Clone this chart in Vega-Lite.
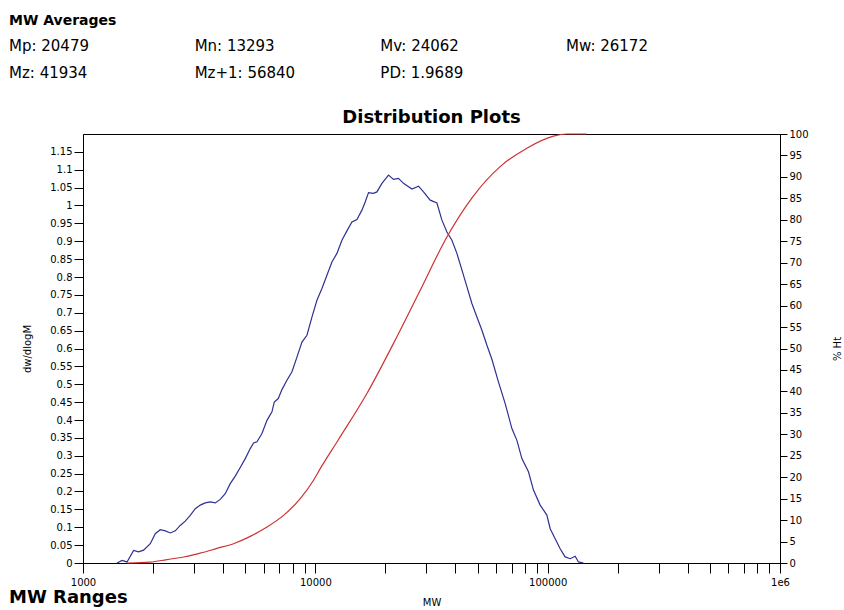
{
  "$schema": "https://vega.github.io/schema/vega-lite/v6.json",
  "background": "white",
  "padding": {"left": 9, "top": 14, "right": 2, "bottom": 0},
  "title": {"text": "MW Averages", "anchor": "start", "frame": "bounds", "fontSize": 14, "fontWeight": "bold", "offset": 11, "color": "black", "font": "DejaVu Sans"},
  "config": {
    "font": "DejaVu Sans",
    "view": {"stroke": null},
    "axis": {"labelFont": "DejaVu Sans", "titleFont": "DejaVu Sans", "labelColor": "black", "titleColor": "black", "domainColor": "black", "tickColor": "black", "grid": false, "labelFontSize": 10, "titleFontSize": 10, "titleFontWeight": "normal", "labelPadding": 2},
    "title": {"color": "black", "font": "DejaVu Sans"},
    "text": {"font": "DejaVu Sans", "color": "black"}
  },
  "datasets": {
    "averages": [
      {"label": "Mp: 20479", "col": 0, "row": 1},
      {"label": "Mn: 13293", "col": 1, "row": 1},
      {"label": "Mv: 24062", "col": 2, "row": 1},
      {"label": "Mw: 26172", "col": 3, "row": 1},
      {"label": "Mz: 41934", "col": 0, "row": 2},
      {"label": "Mz+1: 56840", "col": 1, "row": 2},
      {"label": "PD: 1.9689", "col": 2, "row": 2}
    ],
    "ranges": [{"label": "MW Ranges", "col": 0}],
    "dw": [
      {"M": 1401, "dw": 0}, {"M": 1472, "dw": 0.007}, {"M": 1547, "dw": 0.003}, {"M": 1651, "dw": 0.035},
      {"M": 1735, "dw": 0.031}, {"M": 1823, "dw": 0.036}, {"M": 1948, "dw": 0.054}, {"M": 2047, "dw": 0.082},
      {"M": 2151, "dw": 0.093}, {"M": 2261, "dw": 0.090}, {"M": 2375, "dw": 0.084}, {"M": 2495, "dw": 0.090},
      {"M": 2622, "dw": 0.105}, {"M": 2755, "dw": 0.117}, {"M": 2895, "dw": 0.133}, {"M": 3042, "dw": 0.152},
      {"M": 3197, "dw": 0.162}, {"M": 3359, "dw": 0.168}, {"M": 3530, "dw": 0.171}, {"M": 3709, "dw": 0.168},
      {"M": 3897, "dw": 0.178}, {"M": 4095, "dw": 0.194}, {"M": 4303, "dw": 0.222}, {"M": 4522, "dw": 0.243},
      {"M": 4752, "dw": 0.267}, {"M": 4993, "dw": 0.292}, {"M": 5247, "dw": 0.320}, {"M": 5423, "dw": 0.336},
      {"M": 5608, "dw": 0.339}, {"M": 5892, "dw": 0.362}, {"M": 6192, "dw": 0.399}, {"M": 6506, "dw": 0.423},
      {"M": 6656, "dw": 0.450}, {"M": 6925, "dw": 0.460}, {"M": 7183, "dw": 0.485}, {"M": 7547, "dw": 0.511},
      {"M": 7934, "dw": 0.535}, {"M": 8334, "dw": 0.576}, {"M": 8758, "dw": 0.618}, {"M": 9203, "dw": 0.637},
      {"M": 9669, "dw": 0.688}, {"M": 10160, "dw": 0.735}, {"M": 10676, "dw": 0.768}, {"M": 11218, "dw": 0.805},
      {"M": 11788, "dw": 0.842}, {"M": 12386, "dw": 0.866}, {"M": 13016, "dw": 0.903}, {"M": 13677, "dw": 0.929},
      {"M": 14371, "dw": 0.954}, {"M": 15101, "dw": 0.961}, {"M": 15867, "dw": 0.987}, {"M": 16395, "dw": 1.010},
      {"M": 16940, "dw": 1.036}, {"M": 17800, "dw": 1.034}, {"M": 18412, "dw": 1.038}, {"M": 19346, "dw": 1.062},
      {"M": 20654, "dw": 1.085}, {"M": 21705, "dw": 1.073}, {"M": 22803, "dw": 1.076}, {"M": 23960, "dw": 1.062},
      {"M": 26044, "dw": 1.046}, {"M": 27807, "dw": 1.054}, {"M": 29218, "dw": 1.038}, {"M": 31221, "dw": 1.015},
      {"M": 33372, "dw": 1.007}, {"M": 35058, "dw": 0.959}, {"M": 36844, "dw": 0.926}, {"M": 38712, "dw": 0.903},
      {"M": 40677, "dw": 0.866}, {"M": 42737, "dw": 0.820}, {"M": 44910, "dw": 0.773}, {"M": 47194, "dw": 0.726},
      {"M": 49602, "dw": 0.688}, {"M": 52120, "dw": 0.651}, {"M": 54760, "dw": 0.609}, {"M": 57537, "dw": 0.570},
      {"M": 61434, "dw": 0.506}, {"M": 65649, "dw": 0.446}, {"M": 70146, "dw": 0.376}, {"M": 73710, "dw": 0.343},
      {"M": 77450, "dw": 0.292}, {"M": 82680, "dw": 0.255}, {"M": 86880, "dw": 0.204}, {"M": 92837, "dw": 0.162},
      {"M": 99217, "dw": 0.134}, {"M": 102517, "dw": 0.096}, {"M": 107718, "dw": 0.068}, {"M": 113180, "dw": 0.040},
      {"M": 118925, "dw": 0.017}, {"M": 124962, "dw": 0.012}, {"M": 131340, "dw": 0.019}, {"M": 135681, "dw": 0.003},
      {"M": 142560, "dw": 0}
    ],
    "cum": [
      {"M": 1547, "pct": 0}, {"M": 1948, "pct": 0.2}, {"M": 2298, "pct": 0.8}, {"M": 2710, "pct": 1.4},
      {"M": 3197, "pct": 2.3}, {"M": 3772, "pct": 3.4}, {"M": 4446, "pct": 4.5}, {"M": 5247, "pct": 6.2},
      {"M": 6192, "pct": 8.4}, {"M": 7298, "pct": 11.1}, {"M": 8610, "pct": 15.0}, {"M": 9824, "pct": 19.3},
      {"M": 10498, "pct": 22.0}, {"M": 12585, "pct": 28.8}, {"M": 16672, "pct": 39.5}, {"M": 21705, "pct": 51.2},
      {"M": 28282, "pct": 63.6}, {"M": 36844, "pct": 76.0}, {"M": 47950, "pct": 85.6}, {"M": 62460, "pct": 92.4},
      {"M": 81400, "pct": 96.7}, {"M": 105925, "pct": 99.5}, {"M": 120930, "pct": 100}, {"M": 147480, "pct": 100}
    ]
  },
  "spacing": 27,
  "vconcat": [
    {
      "width": 697,
      "height": 27,
      "data": {"name": "averages"},
      "mark": {"type": "text", "align": "left", "baseline": "middle", "fontSize": 15},
      "encoding": {
        "x": {"field": "col", "type": "quantitative", "scale": {"domain": [0, 3], "range": [-74, 483]}, "axis": null},
        "y": {"field": "row", "type": "quantitative", "scale": {"domain": [1, 2], "range": [0, 27]}, "axis": null},
        "text": {"field": "label"}
      }
    },
    {
      "spacing": 26,
      "bounds": "flush",
      "vconcat": [
        {
          "width": 697,
          "height": 429,
          "title": {"text": "Distribution Plots", "fontSize": 18, "fontWeight": "bold", "offset": 2},
          "view": {"stroke": "black", "strokeWidth": 1},
          "layer": [
            {
              "data": {"name": "dw"},
              "mark": {"type": "line", "color": "#2E3192", "strokeWidth": 1.2},
              "encoding": {
                "x": {
                  "field": "M", "type": "quantitative", "title": "MW",
                  "scale": {"type": "log", "domain": [1000, 1000000]},
                  "axis": {
                    "values": [1000, 2000, 3000, 4000, 5000, 6000, 7000, 8000, 9000, 10000, 20000, 30000, 40000, 50000, 60000, 70000, 80000, 90000, 100000, 200000, 300000, 400000, 500000, 600000, 700000, 800000, 900000, 1000000],
                    "format": "d",
                    "labelExpr": "datum.value == 1000000 ? '1e6' : ((datum.value == 1000 || datum.value == 10000 || datum.value == 100000) ? datum.label : '')",
                    "labelFlush": false, "labelOverlap": false, "tickSize": 10, "labelPadding": 4, "titlePadding": 10
                  }
                },
                "y": {
                  "field": "dw", "type": "quantitative", "title": "dw/dlogM",
                  "scale": {"domain": [0, 1.2]},
                  "axis": {
                    "orient": "left",
                    "values": [0, 0.05, 0.1, 0.15, 0.2, 0.25, 0.3, 0.35, 0.4, 0.45, 0.5, 0.55, 0.6, 0.65, 0.7, 0.75, 0.8, 0.85, 0.9, 0.95, 1, 1.05, 1.1, 1.15],
                    "format": "~g", "tickSize": 9, "titlePadding": 17, "labelOverlap": false
                  }
                }
              }
            },
            {
              "data": {"name": "cum"},
              "mark": {"type": "line", "color": "#CC3333", "strokeWidth": 1.2, "interpolate": "monotone"},
              "encoding": {
                "x": {"field": "M", "type": "quantitative"},
                "y": {
                  "field": "pct", "type": "quantitative", "title": "% Ht",
                  "scale": {"domain": [0, 100]},
                  "axis": {
                    "orient": "right",
                    "values": [0, 5, 10, 15, 20, 25, 30, 35, 40, 45, 50, 55, 60, 65, 70, 75, 80, 85, 90, 95, 100],
                    "tickSize": 7, "titleAngle": -90, "titlePadding": 34, "labelOverlap": false
                  }
                }
              }
            }
          ],
          "resolve": {"scale": {"y": "independent"}}
        },
        {
          "width": 697,
          "height": 18,
          "data": {"name": "ranges"},
          "mark": {"type": "text", "align": "left", "baseline": "middle", "fontSize": 18, "fontWeight": "bold"},
          "encoding": {
            "x": {"field": "col", "type": "quantitative", "scale": {"domain": [0, 3], "range": [-74, 483]}, "axis": null},
            "text": {"field": "label"}
          }
        }
      ]
    }
  ]
}
